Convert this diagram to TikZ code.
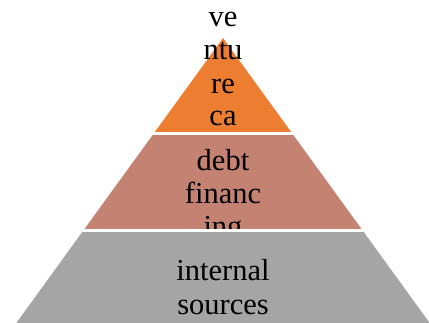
\documentclass[tikz,border=0pt]{standalone}
\usepackage{fontspec}
\setmainfont{Liberation Serif}
\definecolor{layerA}{HTML}{ED7D31}
\definecolor{layerB}{HTML}{C48272}
\definecolor{layerC}{HTML}{A5A5A5}
\begin{document}
\begin{tikzpicture}[x=1pt,y=-1pt,
  gap/.style={draw=white,line width=3pt},
  lbl/.style={anchor=base,inner sep=0pt,font=\fontsize{30.5}{33.5}\selectfont,text=black}]
\useasboundingbox (0,0) rectangle (429,323);
\begin{scope}
\clip (0,0) rectangle (429,323);
% top layer
\coordinate (apex) at (223,38);
\coordinate (bl1) at (153.4,134);
\coordinate (br1) at (292.6,134);
\fill[layerA] (apex) -- (br1) -- (bl1) -- cycle;
\node[lbl] (t1) at (223,27) {ve};
\node[lbl] (t2) at (223,60) {ntu};
\node[lbl] (t3) at (223,93.3) {re};
\node[lbl] (t4) at (223,126) {ca};
% middle layer
\coordinate (bl2) at (83,231);
\coordinate (br2) at (363,231);
\fill[layerB] (bl1) -- (br1) -- (br2) -- (bl2) -- cycle;
\draw[gap] (bl1) -- (br1);
\node[lbl] (m1) at (223,171) {debt};
\node[lbl] (m2) at (223,203.5) {financ};
\node[lbl] (m3) at (223,237) {ing};
% bottom layer
\coordinate (bl3) at (12.7,328);
\coordinate (br3) at (433.3,328);
\fill[layerC] (bl2) -- (br2) -- (br3) -- (bl3) -- cycle;
\draw[gap] (bl2) -- (br2);
\node[lbl] (b1) at (223,281) {internal};
\node[lbl] (b2) at (223,315) {sources};
\end{scope}
\end{tikzpicture}
\end{document}
